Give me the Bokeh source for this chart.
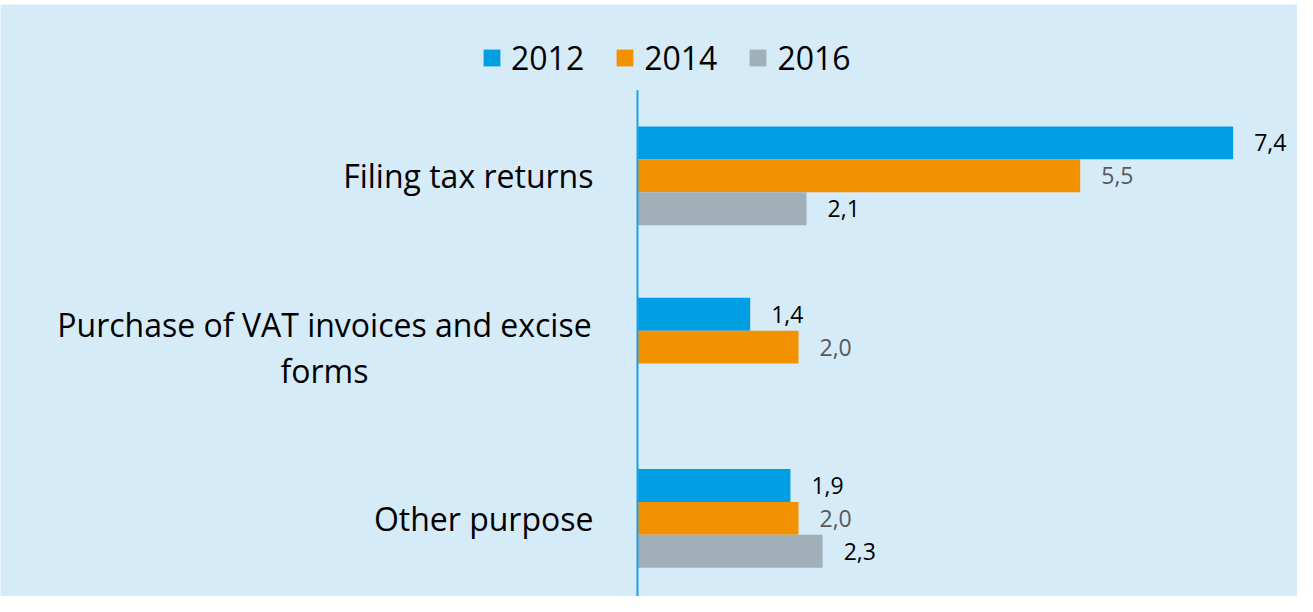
from bokeh.plotting import figure
from bokeh.models import (ColumnDataSource, Range1d, Legend, LegendItem, BoxAnnotation, Spacer)
from bokeh.layouts import column
from bokeh.transform import dodge
from bokeh.core.properties import value
from bokeh.embed import file_html
from bokeh.resources import INLINE

categories = ["Filing tax returns", "Purchase of VAT invoices and excise\nforms", "Other purpose"]
cat_pos = [2.5, 1.5, 0.5]
years = ["2012", "2014", "2016"]
v2012 = [7.4, 1.4, 1.9]
v2014 = [5.5, 2.0, 2.0]
v2016 = [2.1, None, 2.3]

colors = ["#009FE3", "#F39200", "#A0AFB8"]
label_colors = ["#000000", "#595959", "#000000"]
offsets = [0.192, 0.0, -0.192]
BG = "#D6EBF8"
FONT = "Open Sans"
AXIS_COLOR = "#1E9FE2"

p = figure(width=1297, height=592, output_backend="svg", toolbar_location=None,
           x_range=Range1d(-7.913, 8.199), y_range=Range1d(0.044, 3.500),
           min_border_left=0, min_border_right=0, min_border_top=0, min_border_bottom=0)
p.background_fill_color = BG
p.border_fill_color = BG
p.outline_line_color = None
p.xgrid.visible = False
p.ygrid.visible = False
p.axis.visible = False

# vertical category axis line (starts at the top of the category band)
p.add_layout(BoxAnnotation(left=-0.0124, right=0.0124, top=3.0, bottom=None,
                           fill_color=AXIS_COLOR, fill_alpha=1.0, line_color=None,
                           level="overlay"))

# category labels
single = [(c, y) for c, y in zip(categories, cat_pos) if "\n" not in c]
multi = [(c, y) for c, y in zip(categories, cat_pos) if "\n" in c]
src_single = ColumnDataSource(dict(y=[y for _, y in single], x=[0] * len(single),
                                   t=[c for c, _ in single]))
src_multi = ColumnDataSource(dict(y=[y for _, y in multi], x=[0] * len(multi),
                                  t=[c for c, _ in multi]))
p.text(x="x", y="y", text="t", source=src_single, x_offset=-44,
       text_align="right", text_baseline="middle", text_font=value(FONT),
       text_font_size="32px", text_color="#000000")
p.text(x="x", y="y", text="t", source=src_multi, x_offset=-313,
       text_align="center", text_baseline="middle", text_font=value(FONT),
       text_font_size="32px", text_color="#000000", text_line_height=1.07)

series = [v2012, v2014, v2016]
items = []
for yr, vals, col, lcol, off in zip(years, series, colors, label_colors, offsets):
    ys = [c for c, v in zip(cat_pos, vals) if v is not None]
    xs = [v for v in vals if v is not None]
    labs = [f"{v:.1f}".replace(".", ",") for v in xs]
    src = ColumnDataSource(dict(y=ys, x=xs, lab=labs))
    r = p.hbar(y=dodge("y", off), right="x", left=0, height=0.192, source=src,
               fill_color=col, line_color=None)
    p.text(x="x", y=dodge("y", off), text="lab", source=src, x_offset=21,
           text_baseline="middle", text_align="left", text_font=value(FONT),
           text_font_size="23px", text_color=lcol)
    items.append(LegendItem(label=yr, renderers=[r]))

legend = Legend(items=items, orientation="horizontal", location=(481, 517.5),
                glyph_width=21, glyph_height=21, label_standoff=9, spacing=30,
                padding=0, margin=0,
                label_text_font=FONT, label_text_font_size="32px",
                label_text_color="#000000",
                background_fill_alpha=0, border_line_alpha=0)
p.add_layout(legend, "center")

layout = column(Spacer(width=1297, height=4), p)
open("out.html", "w").write(file_html(layout, INLINE))
